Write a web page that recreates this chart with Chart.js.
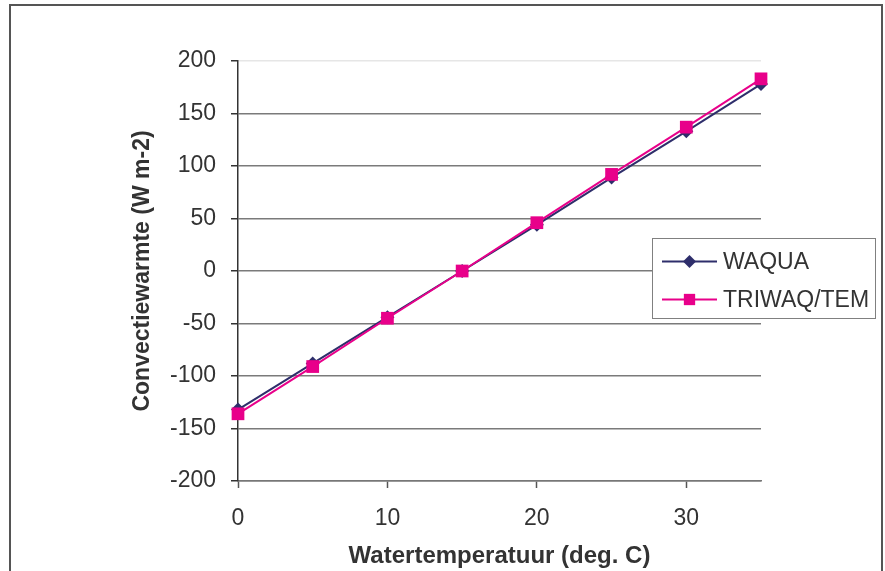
<!DOCTYPE html>
<html>
<head>
<meta charset="utf-8">
<script src="https://cdn.jsdelivr.net/npm/chart.js@4.4.1/dist/chart.umd.min.js"></script>
<style>
  html, body { margin: 0; padding: 0; background: #fff; }
  #wrap { width: 885px; height: 571px; }
</style>
</head>
<body>
<div id="wrap"><canvas id="heat" width="885" height="571"></canvas></div>
<script>
// Convective heat flux vs. water temperature, two model codes
var temps = [0, 5, 10, 15, 20, 25, 30, 35];
var waqua = [-132, -88, -44, 0, 44, 89, 133, 178];
var triwaq = [-136, -91, -45, 0, 46, 92, 137, 183];
var seriesNames = ["WAQUA", "TRIWAQ/TEM"];
var xTicks = [0, 10, 20, 30];

var navy = "#2e2e6b";
var magenta = "#e8008a";
var textColor = "#333333";
var fontFamily = "'Liberation Sans', Arial, sans-serif";

function toPoints(ys) {
    return temps.map(function (t, i) { return { x: t, y: ys[i] }; });
}

// outer frame and white background
var framePlugin = {
    id: "frame",
    beforeDraw: function (chart) {
        var c = chart.ctx;
        c.save();
        c.fillStyle = "#fff";
        c.fillRect(0, 0, chart.width, chart.height);
        c.strokeStyle = "#555";
        c.lineWidth = 2;
        c.strokeRect(10, 5, 872, 600);
        c.restore();
    }
};

// boxed legend sitting over the right side of the plot
var legendBox = {
    id: "legendBox",
    afterDatasetsDraw: function (chart) {
        var c = chart.ctx;
        var x0 = 652, y0 = 238, w = 223, h = 80;
        c.save();
        c.fillStyle = "#fff";
        c.fillRect(x0, y0, w, h);
        c.strokeStyle = "#808080";
        c.lineWidth = 1;
        c.strokeRect(x0 + 0.5, y0 + 0.5, w, h);
        var rows = [
            { y: 261.5, ds: chart.data.datasets[0] },
            { y: 299.5, ds: chart.data.datasets[1] }
        ];
        rows.forEach(function (r) {
            c.strokeStyle = r.ds.borderColor;
            c.lineWidth = 2;
            c.beginPath();
            c.moveTo(662, r.y);
            c.lineTo(717, r.y);
            c.stroke();
            c.fillStyle = r.ds.pointBackgroundColor;
            Chart.helpers.drawPoint(c, {
                pointStyle: r.ds.pointStyle,
                radius: r.ds.pointStyle === "rect" ? 8 : 6.5,
                borderWidth: 0
            }, 689.5, r.y);
            c.fillStyle = textColor;
            c.font = "23px " + fontFamily;
            c.textBaseline = "middle";
            c.textAlign = "left";
            c.fillText(r.ds.label, 723, r.y + 1);
        });
        c.restore();
    }
};

var ctx = document.getElementById("heat").getContext("2d");

new Chart(ctx, {
    type: "line",
    data: {
        datasets: [
            {
                label: seriesNames[0],
                data: toPoints(waqua),
                borderColor: navy,
                backgroundColor: navy,
                pointBackgroundColor: navy,
                pointBorderColor: navy,
                pointStyle: "rectRot",
                pointRadius: 7,
                pointBorderWidth: 0,
                borderWidth: 2,
                tension: 0,
                clip: false,
                order: 1
            },
            {
                label: seriesNames[1],
                data: toPoints(triwaq),
                borderColor: magenta,
                backgroundColor: magenta,
                pointBackgroundColor: magenta,
                pointBorderColor: magenta,
                pointStyle: "rect",
                pointRadius: 9,
                pointBorderWidth: 0,
                borderWidth: 2,
                tension: 0,
                clip: false,
                order: 0
            }
        ]
    },
    options: {
        responsive: false,
        animation: false,
        events: [],
        layout: {
            padding: { left: 0, top: 61, right: 124, bottom: 0 }
        },
        plugins: {
            legend: { display: false },
            tooltip: { enabled: false }
        },
        scales: {
            x: {
                type: "linear",
                min: 0,
                max: 35,
                afterBuildTicks: function (s) {
                    s.ticks = xTicks.map(function (v) { return { value: v }; });
                },
                afterFit: function (s) { s.height = 90; },
                grid: {
                    drawOnChartArea: false,
                    drawTicks: true,
                    tickLength: 7,
                    tickColor: "#555",
                    tickWidth: 1.5
                },
                border: { color: "#777", width: 1.5 },
                ticks: {
                    color: textColor,
                    padding: 17,
                    maxRotation: 0,
                    font: { family: fontFamily, size: 23 }
                },
                title: {
                    display: true,
                    text: "Watertemperatuur (deg. C)",
                    color: textColor,
                    padding: { top: 10, bottom: 0 },
                    font: { family: fontFamily, size: 24, weight: "bold" }
                }
            },
            y: {
                min: -200,
                max: 200,
                afterFit: function (s) { s.width = 238; },
                ticks: {
                    stepSize: 50,
                    color: textColor,
                    padding: 15,
                    font: { family: fontFamily, size: 23 }
                },
                grid: {
                    color: function (c) {
                        return c.tick && c.tick.value === 200 ? "#e6e6e6" : "#7a7a7a";
                    },
                    lineWidth: 1.5,
                    drawTicks: true,
                    tickLength: 7,
                    tickColor: "#333",
                    tickWidth: 1.5
                },
                border: { color: "#333", width: 1.5 },
                title: {
                    display: true,
                    text: "Convectiewarmte (W m-2)",
                    color: textColor,
                    padding: { top: 129, bottom: 0 },
                    font: { family: fontFamily, size: 23, weight: "bold" }
                }
            }
        }
    },
    plugins: [framePlugin, legendBox]
});
</script>
</body>
</html>
